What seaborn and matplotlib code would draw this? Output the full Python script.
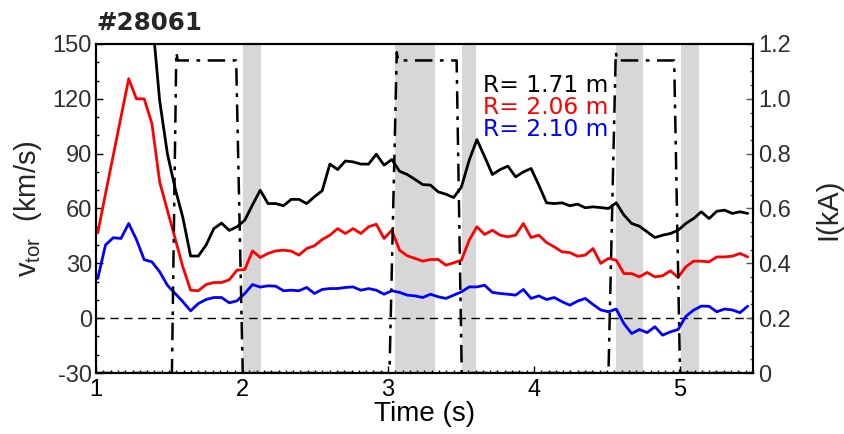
import numpy as np
import pandas as pd
import matplotlib
matplotlib.use("Agg")
import matplotlib.pyplot as plt
import seaborn as sns
from matplotlib.ticker import MultipleLocator

# ---------------- data ----------------
time_s = [1.012, 1.065, 1.118, 1.171, 1.224, 1.277, 1.330, 1.383, 1.436, 1.489,
          1.542, 1.595, 1.648, 1.701, 1.754, 1.807, 1.860, 1.913, 1.966, 2.019,
          2.072, 2.125, 2.178, 2.231, 2.284, 2.337, 2.390, 2.443, 2.496, 2.549,
          2.602, 2.655, 2.708, 2.761, 2.814, 2.867, 2.920, 2.973, 3.026, 3.079,
          3.132, 3.185, 3.238, 3.291, 3.344, 3.397, 3.450, 3.503, 3.556, 3.609,
          3.662, 3.715, 3.768, 3.821, 3.874, 3.927, 3.980, 4.033, 4.086, 4.139,
          4.192, 4.245, 4.298, 4.351, 4.404, 4.457, 4.510, 4.563, 4.616, 4.669,
          4.722, 4.775, 4.828, 4.881, 4.934, 4.987, 5.040, 5.093, 5.146, 5.199,
          5.252, 5.305, 5.358, 5.411, 5.464]

v_r171 = [330, 300, 270, 245, 220, 200, 182, 166, 119, 90,
          71, 55, 34, 34, 40, 49, 52, 48, 50, 53.6,
          62, 70, 62.7, 62.7, 61.5, 65, 65, 62.7, 66.4, 69.7,
          84.3, 81.3, 86, 85.5, 84.3, 84.3, 89.7, 83.7, 86.8, 80.4,
          78.6, 75.9, 73.1, 72.8, 69.1, 67.8, 66, 71.8, 86.4, 97.7,
          88.3, 78.6, 81.3, 83.2, 77.3, 80, 81.9, 72.8, 63.1, 62.7,
          63.1, 61.5, 62.4, 60.4, 60.9, 60.5, 60, 63.1, 56.4, 51.8,
          50.3, 47.2, 44.1, 45.4, 46.3, 48.1, 51.8, 54.5, 58.2, 54.5,
          58.5, 59.1, 57.3, 58.2, 57.3]

v_r206 = [46.7, 68, 89, 110, 131, 120, 120, 106.5, 74.6, 59,
          43.6, 28, 15.3, 15, 18.4, 19.5, 19.5, 21, 26.3, 26.6,
          36.8, 33.2, 35.4, 36.8, 37.2, 36.7, 34.5, 38.1, 39.6, 43,
          45.4, 49, 46.3, 49, 46.3, 50, 51.4, 43.6, 48.1, 37.2,
          34.1, 32.7, 31.2, 32.1, 32.1, 29, 30.3, 31.7, 42.7, 50,
          45.8, 48.1, 45.4, 44.5, 45.4, 51.8, 44.1, 45.4, 41.4, 39,
          36.3, 35.9, 33.9, 34.5, 38.1, 30, 32.7, 31.7, 24.4, 24.4,
          22.6, 25, 22.6, 23.2, 25.9, 22.3, 28.1, 31.2, 31.2, 30.8,
          33.5, 33.5, 33.9, 35.4, 33.5]

v_r210 = [21.7, 40, 44, 43.6, 51.8, 43, 32, 30.8, 25.4, 18,
          13.5, 9, 4, 8, 10.2, 11.3, 11.3, 8.4, 9.5, 13.5,
          18.4, 17, 17.7, 17.5, 15, 15.3, 15, 16.8, 13.5, 15.7,
          16.2, 16.2, 16.8, 17.1, 15.3, 16.2, 15.3, 13.1, 15, 14.1,
          12.6, 12.2, 11.3, 13.1, 11.7, 10.8, 12.6, 14.4, 17.1, 17.1,
          18, 14.1, 13.5, 13.1, 12.6, 15.7, 10.8, 12.2, 10.2, 11.3,
          9, 7.1, 9.3, 10.8, 7.5, 4.5, 3.5, 5, -3, -8.4,
          -6.2, -7.9, -4.7, -9.3, -7.5, -6.2, 1, 4.4, 6.6, 6.5,
          3.5, 5, 4.5, 3, 6.6]

current_t = [1.0, 1.52, 1.55, 1.56, 1.96, 2.005, 3.01, 3.06, 3.07, 3.47, 3.505,
             4.51, 4.56, 4.57, 4.96, 5.0, 5.5]
current_kA = [0.0, 0.0, 1.17, 1.14, 1.14, 0.0, 0.0, 1.17, 1.14, 1.14, 0.0,
              0.0, 1.17, 1.14, 1.14, 0.0, 0.0]

gray_spans = [(2.01, 2.13), (3.05, 3.32), (3.51, 3.60), (4.56, 4.75), (5.01, 5.13)]

series_labels = ["R= 1.71 m", "R= 2.06 m", "R= 2.10 m"]
series_colors = ["#000000", "#ff0000", "#0000ff"]

# ---------------- plot ----------------
sns.set_style("ticks")
plt.rcParams['font.family'] = ['Liberation Sans', 'DejaVu Sans']
plt.rcParams['axes.unicode_minus'] = False
plt.rcParams['mathtext.fontset'] = 'custom'
plt.rcParams['mathtext.rm'] = 'Liberation Sans'
plt.rcParams['mathtext.it'] = 'Liberation Sans'

fig = plt.figure(figsize=(8.44, 4.34), dpi=100)
ax = fig.add_axes([96/844, 1-373/434, (753-96)/844, (373-44)/434])

for a, b in gray_spans:
    ax.axvspan(a, b, color="#d7d7d7", lw=0, zorder=0)

ax.axhline(0, color="black", lw=1.0, ls=(0, (6, 4)), zorder=1)

df = pd.DataFrame({"t": time_s * 3,
                   "v": v_r171 + v_r206 + v_r210,
                   "R": [series_labels[0]] * len(time_s) + [series_labels[1]] * len(time_s)
                        + [series_labels[2]] * len(time_s)})
sns.lineplot(data=df, x="t", y="v", hue="R", palette=series_colors,
             hue_order=series_labels, ax=ax, lw=2.0, legend=False, zorder=3)

ax.set_xlim(1, 5.5)
ax.set_ylim(-30, 150)
ax.xaxis.set_major_locator(MultipleLocator(1))
ax.xaxis.set_minor_locator(MultipleLocator(0.05))
ax.yaxis.set_major_locator(MultipleLocator(30))
ax.yaxis.set_minor_locator(MultipleLocator(10))
ax.tick_params(axis='both', which='both', direction='in', top=False, right=False,
               width=1.0, color='black')
ax.tick_params(axis='both', which='major', length=5)
ax.tick_params(axis='both', which='minor', length=2.5)
ax.tick_params(axis='y', labelsize=17, labelcolor='#303030', pad=3)
ax.tick_params(axis='x', labelsize=17, labelcolor='black', pad=4)
ax.set_xlabel("")
ax.set_ylabel("")
for s in ax.spines.values():
    s.set_linewidth(1.5)
    s.set_color('black')

ax2 = ax.twinx()
cur_df = pd.DataFrame({"t": current_t, "I": current_kA})
sns.lineplot(data=cur_df, x="t", y="I", ax=ax2, color="black", lw=1.8,
             dashes=False, legend=False)
ax2.lines[-1].set_dashes([7, 3, 1.5, 3])
ax2.set_ylim(0, 1.2)
ax2.yaxis.set_major_locator(MultipleLocator(0.2))
ax2.yaxis.set_minor_locator(MultipleLocator(0.05))
ax2.yaxis.set_major_formatter(matplotlib.ticker.FuncFormatter(
    lambda v, p: "0" if abs(v) < 1e-9 else f"{v:.1f}"))
ax2.tick_params(axis='y', which='both', direction='in', color='#555555', width=1.0)
ax2.tick_params(axis='y', which='major', length=5)
ax2.tick_params(axis='y', which='minor', length=2.5)
ax2.tick_params(axis='y', labelsize=17, labelcolor='#303030', pad=4)
ax2.set_ylabel("")
ax2.set_xlim(1, 5.5)
for s in ax2.spines.values():
    s.set_linewidth(1.5)
    s.set_color('black')

# labels
fig.text(28/844, 1-209/434, r"v$_{\rm tor}$  (km/s)", rotation=90, ha='center', va='center',
         fontsize=21, color='#262626')
fig.text(828/844, 1-209/434, "I(kA)", rotation=90, ha='center', va='center',
         fontsize=21, color='#262626')
fig.text(424.5/844, 1-414/434, "Time (s)", ha='center', va='center',
         fontsize=20, color='black')
fig.text(96/844, 1-23/434, "#28061", ha='left', va='center', fontsize=17.7,
         fontweight='bold', color='#262626', family='DejaVu Sans')

# legend-like text
ys = [0.873, 0.806, 0.739]
for lab, col, yy in zip(series_labels, series_colors, ys):
    ax2.text(0.5886, yy, lab, transform=ax.transAxes, ha='left', va='center',
             fontsize=16.8, color=col, zorder=5, family='DejaVu Sans')

fig.savefig("out.png", dpi=100)
